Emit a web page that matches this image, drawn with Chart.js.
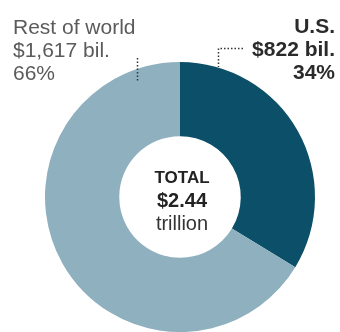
<!DOCTYPE html>
<html>
<head>
<meta charset="utf-8">
<script src="https://cdn.jsdelivr.net/npm/chart.js@4.4.1/dist/chart.umd.min.js"></script>
<style>
  html, body { margin: 0; padding: 0; background: #fff; }
  #wrap { position: relative; width: 340px; height: 332px; overflow: hidden; font-family: "Liberation Sans", Arial, sans-serif; }
  #pie { position: absolute; left: 0; top: 0; }
  .lbl { position: absolute; font-size: 21px; line-height: 23px; white-space: nowrap; }
  #left { left: 13px; top: 15px; color: #5b5b5b; }
  #right { right: 5px; top: 14px; color: #2b2b2b; font-weight: bold; text-align: right; }
  #total { position: absolute; left: 132px; width: 100px; top: 166px; text-align: center; color: #222; line-height: 23px; }
  #total .t1 { font-weight: bold; font-size: 17px; }
  #total .t2 { font-weight: bold; font-size: 20px; }
  #total .t3 { font-size: 20px; color: #333; }
</style>
</head>
<body>
<div id="wrap">
  <canvas id="pie" width="340" height="332"></canvas>
  <div class="lbl" id="left"></div>
  <div class="lbl" id="right"></div>
  <div id="total"></div>
</div>
<script>
  // Spending, billions of dollars
  var regions = ["U.S.", "Rest of world"];
  var spending = [822, 1617];
  var colors = ["#0c4f68", "#8fb0bf"];

  var total = spending[0] + spending[1];
  function pct(v) { return Math.round(v / total * 100) + "%"; }
  function bil(v) { return "$" + v.toLocaleString("en-US") + " bil."; }

  document.getElementById("right").innerHTML =
    regions[0] + "<br>" + bil(spending[0]) + "<br>" + pct(spending[0]);
  document.getElementById("left").innerHTML =
    regions[1] + "<br>" + bil(spending[1]) + "<br>" + pct(spending[1]);
  document.getElementById("total").innerHTML =
    '<div class="t1">TOTAL</div><div class="t2">$' + (total / 1000).toFixed(2) +
    '</div><div class="t3">trillion</div>';

  // dotted leader lines from the labels to the ring
  var leaders = {
    id: "leaders",
    afterDraw: function (chart) {
      var ctx = chart.ctx;
      ctx.save();
      ctx.strokeStyle = "#333";
      ctx.lineWidth = 1.5;
      ctx.setLineDash([1.5, 2]);
      ctx.beginPath();
      ctx.moveTo(137.5, 58);
      ctx.lineTo(137.5, 82);
      ctx.moveTo(243, 48.5);
      ctx.lineTo(218.5, 48.5);
      ctx.lineTo(218.5, 67);
      ctx.stroke();
      ctx.restore();
    }
  };

  var ctx = document.getElementById("pie").getContext("2d");
  var myChart = new Chart(ctx, {
    type: "doughnut",
    data: {
      labels: regions,
      datasets: [{
        data: spending,
        backgroundColor: colors,
        borderWidth: 0
      }]
    },
    options: {
      responsive: false,
      animation: false,
      cutout: "45%",
      layout: { padding: { left: 44, right: 24, top: 62, bottom: 0 } },
      plugins: {
        legend: { display: false },
        tooltip: { enabled: false }
      }
    },
    plugins: [leaders]
  });
</script>
</body>
</html>
